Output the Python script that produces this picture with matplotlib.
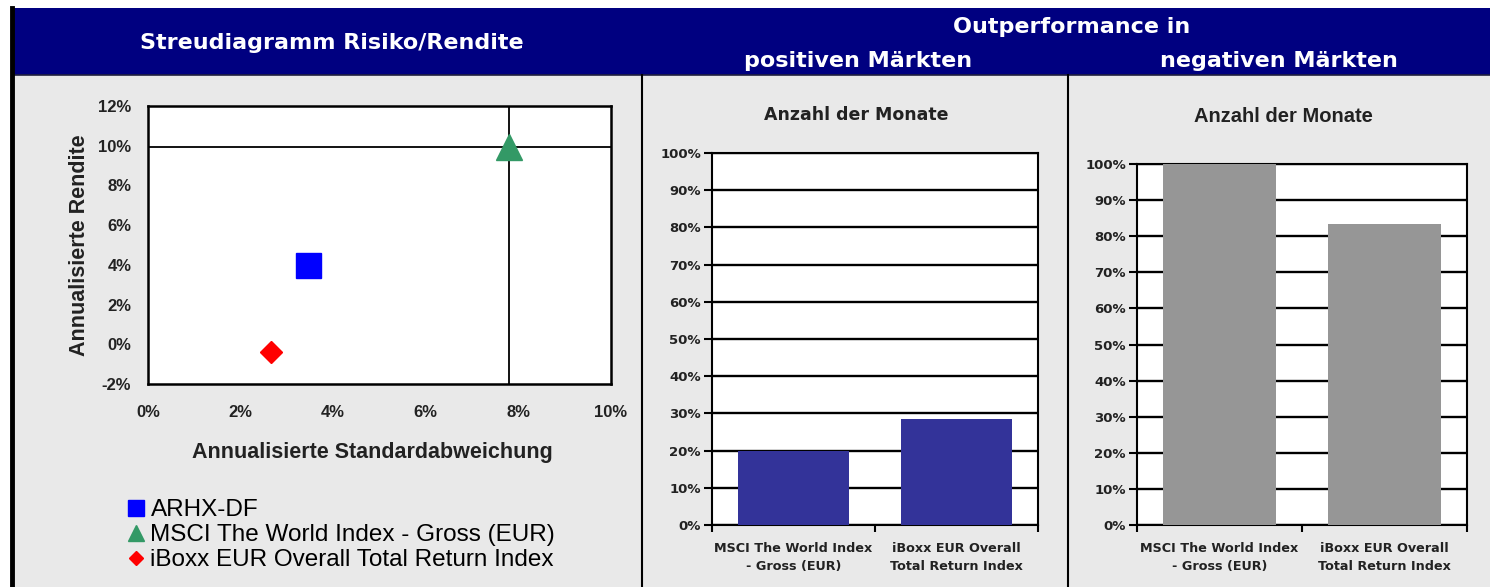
import numpy as np
import matplotlib
matplotlib.use("Agg")
import matplotlib.pyplot as plt
from matplotlib.patches import Rectangle
from matplotlib.ticker import PercentFormatter, FixedLocator, FuncFormatter

W, H = 1490, 587

# daten streudiagramm (risiko / rendite in %)
namen = ["ARHX-DF", "MSCI The World Index - Gross (EUR)", "iBoxx EUR Overall Total Return Index"]
risiko = [3.46, 7.8, 2.66]
rendite = [4.0, 9.95, -0.4]
marker = ["s", "^", "D"]
farben = ["#0000ff", "#339966", "#ff0000"]
groessen = [18, 18.5, 11.7]

# daten outperformance (anteil der monate)
kategorien = ["MSCI The World Index\n- Gross (EUR)", "iBoxx EUR Overall\nTotal Return Index"]
positiv = [0.20, 0.286]
negativ = [1.00, 0.833]

fig = plt.figure(figsize=(W / 100, H / 100), dpi=100)
fig.patch.set_facecolor("white")


def px_rect(x0, y0, x1, y1):
    return [x0 / W, 1 - y1 / H, (x1 - x0) / W, (y1 - y0) / H]


# hintergrund, kopfzeile, trennlinien
bg = fig.add_axes([0, 0, 1, 1], zorder=0)
bg.set_xlim(0, W)
bg.set_ylim(H, 0)
bg.axis("off")
bg.add_patch(Rectangle((12, 75), W - 12, H - 75, color="#e9e9e9", lw=0))
bg.add_patch(Rectangle((12, 8), W - 12, 67, color="#000080", lw=0))
bg.plot([12, W], [75, 75], color="#202040", lw=1.2)
bg.plot([12, 12], [8, H], color="black", lw=3.5)
bg.plot([642, 642], [75, H], color="black", lw=1.5)
bg.plot([1068, 1068], [75, H], color="black", lw=1.5)

kopf = dict(color="white", fontweight="bold", family="DejaVu Sans", fontsize=16,
            ha="center", va="center")
bg.text(332, 43, "Streudiagramm Risiko/Rendite", **kopf)
bg.text(1072, 27, "Outperformance in", **kopf)
bg.text(858, 61, "positiven Märkten", **kopf)
bg.text(1279, 61, "negativen Märkten", **kopf)

# streudiagramm
prozent = FuncFormatter(lambda v, p: "%d%%" % v)
ax = fig.add_axes(px_rect(148, 106, 611, 384), zorder=2)
ax.set_facecolor("white")
ax.axhline(rendite[1], color="black", lw=1.3, zorder=1)
ax.axvline(risiko[1], color="black", lw=1.3, zorder=1)
for i in range(len(namen)):
    ax.plot(risiko[i], rendite[i], marker=marker[i], color=farben[i], ms=groessen[i],
            linestyle="none", label=namen[i], zorder=3)
ax.set_xlim(0, 10)
ax.set_ylim(-2, 12)
ax.set_xticks(np.arange(0, 11, 2))
ax.set_yticks(np.arange(-2, 13, 2))
ax.xaxis.set_major_formatter(prozent)
ax.yaxis.set_major_formatter(prozent)
ax.tick_params(length=0, labelsize=12, pad=15)
ax.tick_params(axis="y", pad=12)
for lab in ax.get_xticklabels() + ax.get_yticklabels():
    lab.set_family("Liberation Sans")
    lab.set_fontweight("bold")
    lab.set_color("#222222")
for s in ax.spines.values():
    s.set_linewidth(1.8)
ax.set_xlabel("Annualisierte Standardabweichung", fontsize=15.5, family="Liberation Sans",
              fontweight="bold", color="#222222")
ax.xaxis.set_label_coords(0.484, -0.21)
ax.set_ylabel("Annualisierte Rendite", fontsize=15.5, family="Liberation Sans",
              fontweight="bold", color="#222222", labelpad=6)
ax.legend(loc="upper left", bbox_to_anchor=(114 / W, 1 - 487 / H),
          bbox_transform=fig.transFigure, frameon=False, markerscale=0.62,
          prop={"family": "Liberation Sans", "size": 17.5}, labelspacing=0.12,
          handlelength=0.8, handletextpad=0.2, borderpad=0)


def balken(rect, werte, farbe, titel, titel_x, titel_y, titel_font, titel_size):
    a = fig.add_axes(px_rect(*rect), zorder=2)
    a.set_facecolor("white")
    a.set_axisbelow(True)
    x = np.arange(len(werte))
    a.bar(x, werte, width=0.68, color=farbe, zorder=3)
    a.set_xlim(-0.5, len(werte) - 0.5)
    a.set_ylim(0, 1)
    a.set_yticks(np.arange(0, 1.01, 0.1))
    a.yaxis.set_major_formatter(PercentFormatter(xmax=1, decimals=0))
    a.yaxis.grid(True, color="black", lw=1.7)
    a.set_xticks(x)
    a.set_xticklabels(kategorien, linespacing=1.5)
    a.xaxis.set_minor_locator(FixedLocator([-0.5, 0.5, 1.5]))
    a.tick_params(axis="x", which="major", length=0, pad=12)
    a.tick_params(axis="x", which="minor", length=5, width=1.5, direction="out")
    a.tick_params(axis="y", length=6, width=1.5, direction="out", pad=2)
    for lab in a.get_xticklabels():
        lab.set_fontsize(9.2)
    for lab in a.get_yticklabels():
        lab.set_fontsize(9.5)
    for lab in a.get_xticklabels() + a.get_yticklabels():
        lab.set_family("DejaVu Sans")
        lab.set_fontweight("bold")
        lab.set_color("#222222")
    for s in a.spines.values():
        s.set_linewidth(1.5)
    bg.text(titel_x, titel_y, titel, ha="center", va="center", family=titel_font,
            fontsize=titel_size, fontweight="bold", color="#222222")
    return a


balken((712, 153, 1038, 525), positiv, "#333399", "Anzahl der Monate", 856, 115,
       "DejaVu Sans", 12.5)
balken((1137, 164, 1467, 525), negativ, "#969696", "Anzahl der Monate", 1283, 117,
       "Liberation Sans", 14.5)

fig.savefig("out.png", dpi=100, facecolor=fig.get_facecolor())
